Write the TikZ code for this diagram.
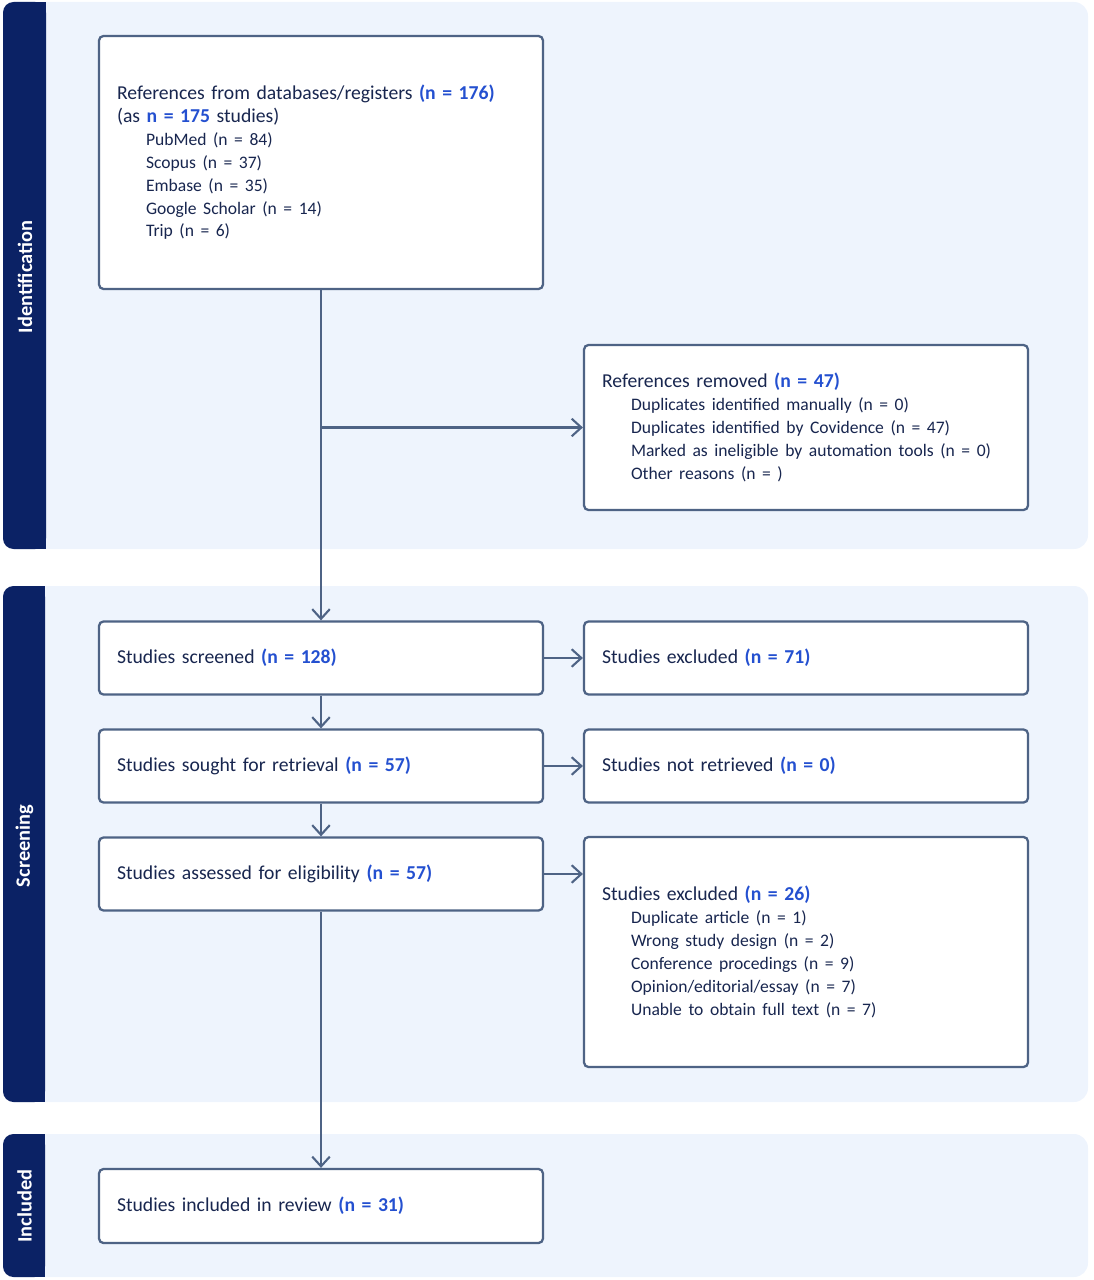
\documentclass[tikz,border=0pt]{standalone}
\usepackage{fontspec}
\setmainfont{Carlito}
\usetikzlibrary{arrows.meta}
\definecolor{bandnavy}{HTML}{0B2265}
\definecolor{panelblue}{HTML}{EEF4FD}
\definecolor{boxline}{HTML}{4E6385}
\definecolor{textnavy}{HTML}{18264F}
\definecolor{numblue}{HTML}{2450D0}
\newcommand{\nval}[1]{\textcolor{numblue}{\bfseries #1}}
\newcommand{\subline}[1]{\hspace*{16.5pt}{\fontsize{10}{13}\selectfont #1}}
\begin{document}
\begin{tikzpicture}[x=0.02cm,y=-0.02cm,->,>={Straight Barb[length=5.5pt,width=10pt]}]
	\def \leftcol{321}
	\def \rightcol{806}
	\tikzstyle{s-box}=[draw=boxline,line width=1.3pt,rounded corners=2.5pt,fill=white,text=textnavy,text width=8.16cm,inner xsep=0.36cm,align=left,minimum height=1.46cm,font=\fontsize{11.2}{13}\selectfont]
	\tikzstyle{band-label}=[rotate=90,text=white,font=\bfseries\fontsize{11.6}{13}\selectfont]
	\tikzstyle{flow}=[draw=boxline,line width=1.2pt]
	\useasboundingbox (0,0) rectangle (1093,1280);
	% panels
	\fill[panelblue,rounded corners=8pt] (3,2) rectangle (1088,549);
	\fill[panelblue,rounded corners=8pt] (3,586) rectangle (1088,1102);
	\fill[panelblue,rounded corners=8pt] (3,1134) rectangle (1088,1277);
	\fill[bandnavy,rounded corners=6pt] (3,2) rectangle (46,549);
	\fill[bandnavy] (25,2) rectangle (46,549);
	\fill[bandnavy,rounded corners=6pt] (3,586) rectangle (45,1102);
	\fill[bandnavy] (25,586) rectangle (45,1102);
	\fill[bandnavy,rounded corners=6pt] (3,1134) rectangle (45,1277);
	\fill[bandnavy] (25,1134) rectangle (45,1277);
	\node[band-label] (ident) at (25,277) {Identification};
	\node[band-label] (screen) at (24.5,846) {Screening};
	\node[band-label] (incl) at (24.5,1206) {Included};
	
	% identification
	\node[s-box,minimum height=5.06cm] (refs) at (\leftcol,162.5) {References from databases/registers \nval{(n = 176)}\\(as \nval{n = 175} studies)\\
		\subline{PubMed (n = 84)}\\\subline{Scopus (n = 37)}\\\subline{Embase (n = 35)}\\\subline{Google Scholar (n = 14)}\\\subline{Trip (n = 6)}};
	\node[s-box,minimum height=3.3cm] (removed) at (\rightcol,427.5) {References removed \nval{(n = 47)}\\
		\subline{Duplicates identified manually (n = 0)}\\\subline{Duplicates identified by Covidence (n = 47)}\\\subline{Marked as ineligible by automation tools (n = 0)}\\\subline{Other reasons (n = )}};
	
	% screening
	\node[s-box] (screened) at (\leftcol,658) {Studies screened \nval{(n = 128)}};
	\node[s-box] (excl-a) at (\rightcol,658) {Studies excluded \nval{(n = 71)}};
	\node[s-box] (sought) at (\leftcol,766) {Studies sought for retrieval \nval{(n = 57)}};
	\node[s-box] (notret) at (\rightcol,766) {Studies not retrieved \nval{(n = 0)}};
	\node[s-box] (assessed) at (\leftcol,874) {Studies assessed for eligibility \nval{(n = 57)}};
	\node[s-box,minimum height=4.6cm] (excl-b) at (\rightcol,952) {Studies excluded \nval{(n = 26)}\\
		\subline{Duplicate article (n = 1)}\\\subline{Wrong study design (n = 2)}\\\subline{Conference procedings (n = 9)}\\\subline{Opinion/editorial/essay (n = 7)}\\\subline{Unable to obtain full text (n = 7)}};
	
	% included
	\node[s-box,minimum height=1.48cm] (included) at (\leftcol,1206) {Studies included in review \nval{(n = 31)}};
	
	\coordinate (split) at (refs.south |- removed.west);
	\coordinate (excl-b-in) at (assessed.east -| excl-b.west);
	\path[every edge/.style=flow]
		(refs)		edge	(screened)
		(split)		edge	(removed.west)
		(screened)	edge	(excl-a)
		(screened)	edge	(sought)
		(sought)	edge	(notret)
		(sought)	edge	(assessed)
		(assessed.east)	edge	(excl-b-in)
		(assessed)	edge	(included);
\end{tikzpicture}
\end{document}
